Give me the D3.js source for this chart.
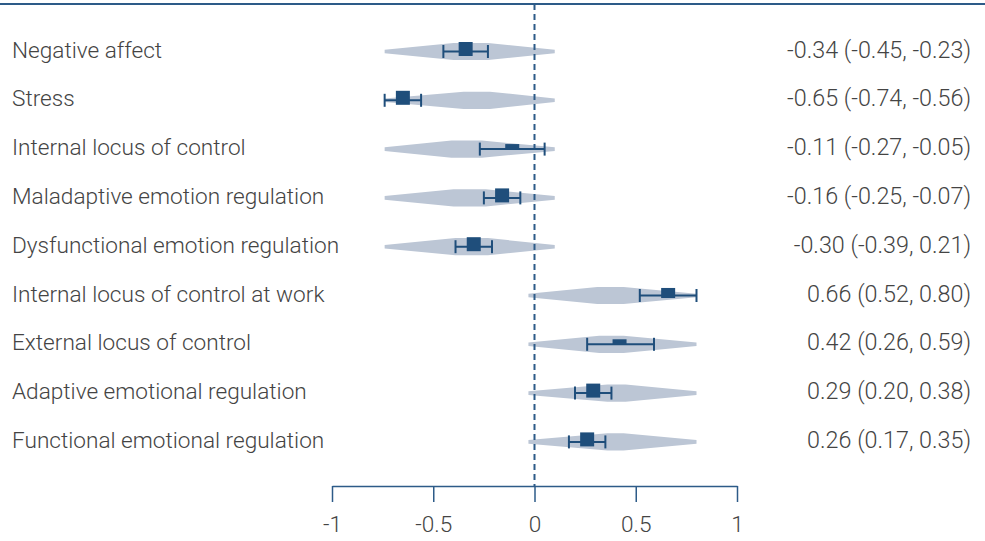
<!DOCTYPE html>
<html>
<head>
<meta charset="utf-8">
<script src="https://cdn.jsdelivr.net/npm/d3@7.9.0/dist/d3.min.js"></script>
<style>
  html, body { margin: 0; padding: 0; background: #fff; }
  svg { display: block; font-family: Roboto, "Open Sans", sans-serif; font-weight: 300; }
  .row-label, .est-label { fill: #444; }
  .axis text { fill: #444; }
</style>
</head>
<body>
<div id="chart"></div>
<script>
const outcomes = [
  "Negative affect",
  "Stress",
  "Internal locus of control",
  "Maladaptive emotion regulation",
  "Dysfunctional emotion regulation",
  "Internal locus of control at work",
  "External locus of control",
  "Adaptive emotional regulation",
  "Functional emotional regulation",
];
const estimates = [-0.34, -0.65, -0.11, -0.16, -0.30, 0.66, 0.42, 0.29, 0.26];
const ciLow = [-0.45, -0.74, -0.27, -0.25, -0.39, 0.52, 0.26, 0.20, 0.17];
const ciHigh = [-0.23, -0.56, 0.05, -0.07, -0.21, 0.80, 0.59, 0.38, 0.35];
const estimateText = [
  "-0.34 (-0.45, -0.23)",
  "-0.65 (-0.74, -0.56)",
  "-0.11 (-0.27, -0.05)",
  "-0.16 (-0.25, -0.07)",
  "-0.30 (-0.39, 0.21)",
  "0.66 (0.52, 0.80)",
  "0.42 (0.26, 0.59)",
  "0.29 (0.20, 0.38)",
  "0.26 (0.17, 0.35)",
];
const weights = [100, 100, 36, 100, 100, 72, 36, 100, 100];
// spread of the pooled distribution drawn behind each row
const spreadLow = [-0.74, -0.74, -0.74, -0.74, -0.74, -0.03, -0.03, -0.03, -0.03];
const peakLow = [-0.40, -0.35, -0.41, -0.40, -0.39, 0.31, 0.32, 0.36, 0.36];
const peakHigh = [-0.23, -0.22, -0.26, -0.24, -0.23, 0.44, 0.44, 0.45, 0.44];
const spreadHigh = [0.10, 0.10, 0.10, 0.10, 0.10, 0.80, 0.80, 0.80, 0.80];
const xTicks = [-1, -0.5, 0, 0.5, 1];

const width = 985;
const height = 541;
const dark = "#1f4e7b";
const lineColor = "#2d5b88";
const spreadColor = "#bcc6d5";

const rows = outcomes.map((name, i) => ({
  name,
  est: estimates[i],
  lo: ciLow[i],
  hi: ciHigh[i],
  text: estimateText[i],
  weight: weights[i],
  shape: [spreadLow[i], peakLow[i], peakHigh[i], spreadHigh[i]],
}));

const svg = d3.select("#chart")
  .append("svg")
  .attr("width", width)
  .attr("height", height);

const xScale = d3.scaleLinear().domain([-1, 1]).range([332, 737]);
const yScale = d3.scalePoint().domain(outcomes).range([49, 439.4]);
const hScale = d3.scaleLinear().domain([0, 100]).range([0, 14]);

// top rule
svg.append("line")
  .attr("x1", 0).attr("x2", width)
  .attr("y1", 4).attr("y2", 4)
  .attr("stroke", lineColor)
  .attr("stroke-width", 2);

// spread shapes
const shapeArea = d3.area()
  .x((d) => xScale(d[0]))
  .y0((d) => d[1])
  .y1((d) => -d[1]);

svg.append("g")
  .selectAll("path")
  .data(rows)
  .join("path")
  .attr("transform", (d) => `translate(0, ${yScale(d.name) + 2.5})`)
  .attr("d", (d) => shapeArea([
    [d.shape[0], 1.8],
    [d.shape[1], 8.6],
    [d.shape[2], 8.6],
    [d.shape[3], 1.8],
  ]))
  .attr("fill", spreadColor);

// null line
svg.append("line")
  .attr("x1", xScale(0)).attr("x2", xScale(0))
  .attr("y1", 4).attr("y2", 486)
  .attr("stroke", lineColor)
  .attr("stroke-width", 2)
  .attr("stroke-dasharray", "6,4");

// confidence intervals
const ci = svg.append("g")
  .attr("stroke", dark)
  .attr("stroke-width", 2)
  .selectAll("g")
  .data(rows)
  .join("g")
  .attr("transform", (d) => `translate(0, ${yScale(d.name) + 2.5})`);

ci.append("line")
  .attr("x1", (d) => xScale(d.lo))
  .attr("x2", (d) => xScale(d.hi));

ci.append("line")
  .attr("x1", (d) => xScale(d.lo))
  .attr("x2", (d) => xScale(d.lo))
  .attr("y1", -6.5).attr("y2", 6.5);

ci.append("line")
  .attr("x1", (d) => xScale(d.hi))
  .attr("x2", (d) => xScale(d.hi))
  .attr("y1", -6.5).attr("y2", 6.5);

// point estimates
svg.append("g")
  .selectAll("rect")
  .data(rows)
  .join("rect")
  .attr("x", (d) => xScale(d.est) - 7)
  .attr("y", (d) => yScale(d.name) - hScale(d.weight) / 2)
  .attr("width", 14)
  .attr("height", (d) => hScale(d.weight))
  .attr("fill", dark);

// labels
svg.append("g")
  .selectAll("text")
  .data(rows)
  .join("text")
  .attr("class", "row-label")
  .attr("x", 12)
  .attr("y", (d) => yScale(d.name) + 8.5)
  .attr("font-size", 22.6)
  .text((d) => d.name);

svg.append("g")
  .selectAll("text")
  .data(rows)
  .join("text")
  .attr("class", "est-label")
  .attr("x", 971)
  .attr("y", (d) => yScale(d.name) + 8.5)
  .attr("text-anchor", "end")
  .attr("font-size", 23.3)
  .text((d) => d.text);

// axis
const axis = svg.append("g")
  .attr("class", "axis")
  .attr("transform", "translate(0, 486)")
  .call(d3.axisBottom(xScale)
    .tickValues(xTicks)
    .tickFormat((d) => String(d))
    .tickSize(16)
    .tickSizeOuter(0)
    .tickPadding(14));

axis.select(".domain").attr("stroke", lineColor).attr("stroke-width", 1.5);
axis.selectAll(".tick line").attr("stroke", lineColor).attr("stroke-width", 1.5);
axis.selectAll(".tick text")
  .attr("font-size", 22.6)
  .attr("font-family", "Roboto, sans-serif")
  .attr("font-weight", 300);
</script>
</body>
</html>
